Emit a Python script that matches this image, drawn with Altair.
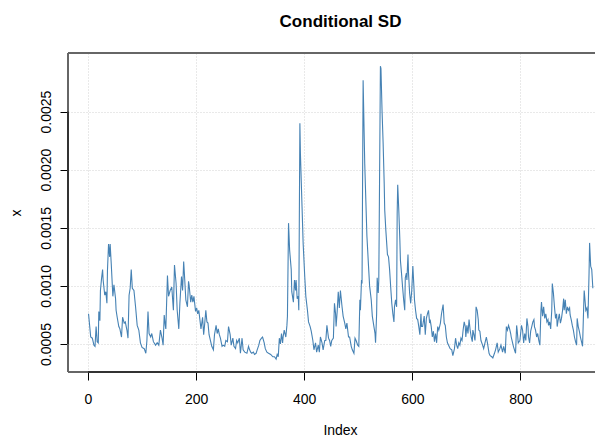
import altair as alt
import pandas as pd

# Index positions and conditional SD values
idx = [1, 5, 8, 11, 13, 15, 17, 19, 20, 22, 23, 25, 27, 28, 31, 33, 35, 36, 38, 40,
       41, 43, 46, 48, 51, 52, 54, 57, 59, 62, 64, 67, 69, 72, 74, 76, 78, 80, 82, 85,
       88, 91, 94, 97, 100, 104, 107, 109, 111, 113, 116, 118, 121, 125, 128, 131, 134, 137, 139, 141,
       143, 144, 147, 149, 152, 155, 158, 160, 163, 165, 168, 170, 173, 175, 177, 179, 181, 184, 186, 187,
       190, 192, 194, 196, 199, 201, 203, 205, 207, 209, 212, 214, 216, 218, 220, 222, 224, 227, 229, 232,
       234, 237, 239, 241, 243, 245, 248, 250, 253, 255, 258, 260, 263, 265, 268, 270, 273, 275, 277, 280,
       282, 285, 287, 290, 294, 297, 299, 301, 303, 306, 308, 311, 313, 316, 318, 321, 323, 326, 328, 331,
       334, 338, 342, 345, 348, 350, 352, 354, 356, 358, 360, 361, 363, 366, 368, 369, 371, 373, 376, 377,
       380, 382, 384, 385, 387, 389, 390, 392, 393, 396, 398, 401, 403, 406, 408, 411, 413, 416, 418, 421,
       423, 426, 428, 430, 433, 435, 438, 440, 442, 445, 447, 449, 451, 454, 456, 458, 459, 461, 463, 465,
       467, 470, 472, 475, 477, 479, 482, 484, 487, 489, 492, 494, 496, 499, 501, 503, 504, 506, 507, 509,
       512, 514, 516, 519, 521, 524, 526, 529, 531, 532, 534, 535, 537, 538, 541, 542, 544, 546, 548, 549,
       551, 553, 554, 556, 558, 560, 562, 564, 566, 567, 569, 571, 572, 573, 575, 577, 578, 580, 582, 584,
       586, 587, 589, 590, 592, 593, 595, 597, 599, 601, 603, 604, 606, 608, 610, 612, 614, 616, 617, 619,
       622, 624, 626, 628, 630, 632, 633, 635, 637, 639, 641, 643, 645, 647, 649, 652, 654, 657, 659, 661,
       663, 665, 668, 670, 673, 675, 678, 680, 682, 684, 686, 688, 690, 692, 694, 696, 698, 699, 701, 703,
       705, 707, 709, 711, 712, 714, 716, 718, 720, 722, 723, 725, 727, 730, 732, 735, 737, 739, 742, 744,
       747, 749, 752, 754, 757, 759, 762, 764, 767, 769, 772, 774, 776, 778, 780, 782, 783, 785, 787, 789,
       791, 793, 794, 796, 799, 802, 804, 806, 808, 810, 812, 814, 815, 817, 819, 821, 823, 825, 826, 828,
       830, 832, 834, 836, 838, 839, 841, 843, 845, 847, 849, 851, 852, 854, 856, 858, 859, 861, 863, 865,
       867, 868, 870, 872, 874, 876, 878, 880, 881, 883, 885, 887, 889, 891, 892, 894, 896, 898, 900, 902,
       904, 905, 907, 909, 911, 913, 915, 917, 918, 920, 921, 923, 925, 927, 928, 930, 932, 934]

sd = [0.00076, 0.00056, 0.00055, 0.00049, 0.00048, 0.00065, 0.00052, 0.00051, 0.00078, 0.00070,
      0.00096, 0.00106, 0.00114, 0.00105, 0.00092, 0.00095, 0.00085, 0.00113, 0.00136, 0.00125,
      0.00136, 0.00119, 0.00091, 0.00101, 0.00089, 0.00079, 0.00073, 0.00065, 0.00063, 0.00056,
      0.00073, 0.00068, 0.00069, 0.00062, 0.00055, 0.00092, 0.00098, 0.00114, 0.00098, 0.00096,
      0.00082, 0.00066, 0.00062, 0.00051, 0.00047, 0.00046, 0.00042, 0.00053, 0.00078, 0.00059,
      0.00056, 0.00059, 0.00052, 0.00049, 0.00051, 0.00049, 0.00062, 0.00055, 0.00049, 0.00075,
      0.00066, 0.00063, 0.00109, 0.00091, 0.00096, 0.00099, 0.00079, 0.00118, 0.00102, 0.00079,
      0.00063, 0.00085, 0.00108, 0.00096, 0.00121, 0.00105, 0.00088, 0.00082, 0.00104, 0.00101,
      0.00086, 0.00092, 0.00086, 0.00091, 0.00078, 0.00081, 0.00076, 0.00079, 0.00071, 0.00063,
      0.00073, 0.00058, 0.00068, 0.00079, 0.00069, 0.00068, 0.00058, 0.00052, 0.00048, 0.00045,
      0.00058, 0.00066, 0.00059, 0.00063, 0.00058, 0.00055, 0.00048, 0.00049, 0.00048, 0.00053,
      0.00052, 0.00065, 0.00058, 0.00049, 0.00055, 0.00048, 0.00046, 0.00053, 0.00051, 0.00055,
      0.00042, 0.00055, 0.00045, 0.00043, 0.00042, 0.00048, 0.00045, 0.00043, 0.00042, 0.00043,
      0.00041, 0.00042, 0.00045, 0.00049, 0.00053, 0.00055, 0.00056, 0.00051, 0.00046, 0.00043,
      0.00042, 0.00041, 0.00039, 0.00039, 0.00037, 0.00041, 0.00039, 0.00055, 0.00050, 0.00059,
      0.00051, 0.00056, 0.00062, 0.00056, 0.00066, 0.00074, 0.00154, 0.00131, 0.00114, 0.00095,
      0.00086, 0.00105, 0.00096, 0.00105, 0.00089, 0.00091, 0.00079, 0.00240, 0.00214, 0.00168,
      0.00137, 0.00108, 0.00091, 0.00079, 0.00069, 0.00065, 0.00061, 0.00053, 0.00045, 0.00051,
      0.00043, 0.00049, 0.00043, 0.00056, 0.00051, 0.00045, 0.00053, 0.00053, 0.00066, 0.00055,
      0.00053, 0.00048, 0.00053, 0.00055, 0.00085, 0.00076, 0.00065, 0.00078, 0.00095, 0.00081,
      0.00096, 0.00082, 0.00074, 0.00068, 0.00063, 0.00068, 0.00056, 0.00056, 0.00048, 0.00045,
      0.00042, 0.00055, 0.00053, 0.00049, 0.00048, 0.00088, 0.00079, 0.00105, 0.00102, 0.00277,
      0.00205, 0.00174, 0.00143, 0.00117, 0.00100, 0.00088, 0.00074, 0.00065, 0.00059, 0.00051,
      0.00076, 0.00107, 0.00094, 0.00105, 0.00289, 0.00287, 0.00251, 0.00223, 0.00188, 0.00165,
      0.00148, 0.00134, 0.00127, 0.00125, 0.00114, 0.00099, 0.00085, 0.00076, 0.00069, 0.00082,
      0.00088, 0.00082, 0.00162, 0.00187, 0.00165, 0.00139, 0.00122, 0.00111, 0.00099, 0.00088,
      0.00079, 0.00107, 0.00111, 0.00105, 0.00127, 0.00111, 0.00094, 0.00085, 0.00096, 0.00117,
      0.00099, 0.00088, 0.00079, 0.00072, 0.00071, 0.00065, 0.00058, 0.00076, 0.00065, 0.00065,
      0.00074, 0.00058, 0.00072, 0.00076, 0.00079, 0.00068, 0.00071, 0.00065, 0.00056, 0.00061,
      0.00052, 0.00059, 0.00051, 0.00065, 0.00062, 0.00068, 0.00076, 0.00084, 0.00068, 0.00066,
      0.00056, 0.00051, 0.00048, 0.00046, 0.00045, 0.00040, 0.00046, 0.00055, 0.00049, 0.00046,
      0.00051, 0.00049, 0.00055, 0.00053, 0.00062, 0.00069, 0.00065, 0.00056, 0.00066, 0.00059,
      0.00071, 0.00062, 0.00056, 0.00052, 0.00062, 0.00058, 0.00053, 0.00082, 0.00079, 0.00071,
      0.00062, 0.00061, 0.00053, 0.00049, 0.00046, 0.00052, 0.00056, 0.00051, 0.00042, 0.00040,
      0.00039, 0.00038, 0.00042, 0.00045, 0.00051, 0.00043, 0.00046, 0.00049, 0.00043, 0.00048,
      0.00042, 0.00065, 0.00062, 0.00066, 0.00063, 0.00059, 0.00056, 0.00052, 0.00048, 0.00045,
      0.00042, 0.00066, 0.00062, 0.00051, 0.00053, 0.00066, 0.00062, 0.00051, 0.00059, 0.00053,
      0.00072, 0.00065, 0.00056, 0.00051, 0.00061, 0.00065, 0.00069, 0.00071, 0.00065, 0.00062,
      0.00056, 0.00059, 0.00053, 0.00049, 0.00079, 0.00086, 0.00074, 0.00082, 0.00072, 0.00076,
      0.00069, 0.00071, 0.00066, 0.00069, 0.00063, 0.00079, 0.00102, 0.00094, 0.00082, 0.00072,
      0.00076, 0.00065, 0.00071, 0.00076, 0.00068, 0.00072, 0.00079, 0.00089, 0.00079, 0.00088,
      0.00076, 0.00082, 0.00079, 0.00081, 0.00075, 0.00071, 0.00066, 0.00062, 0.00056, 0.00052,
      0.00049, 0.00072, 0.00065, 0.00061, 0.00056, 0.00052, 0.00048, 0.00081, 0.00096, 0.00085,
      0.00079, 0.00081, 0.00072, 0.00111, 0.00137, 0.00117, 0.00114, 0.00098]

x_ticks = [0, 200, 400, 600, 800]
y_ticks = [0.0005, 0.0010, 0.0015, 0.0020, 0.0025]

df = pd.DataFrame({"Index": idx, "x": sd})

W, H = 527, 319
FONT = "Liberation Sans"
x_scale = alt.Scale(domain=[-37, 938], nice=False, zero=False)
y_scale = alt.Scale(domain=[0.000259, 0.003004], nice=False, zero=False)

x_axis = alt.Axis(values=x_ticks, grid=True, gridColor="#D3D3D3", gridDash=[1, 2],
                  gridWidth=1, domain=False, ticks=True, tickSize=8, tickColor="black",
                  labelFont=FONT, labelFontSize=14, labelColor="black",
                  labelBaseline="middle", labelPadding=19, labelFlush=False,
                  title="Index", titleFont=FONT, titleFontSize=14, titleFontWeight="normal",
                  titleColor="black", titleX=272, titleY=58, titleAlign="center",
                  titleBaseline="middle")
y_axis = alt.Axis(values=y_ticks, format=".4f", grid=True, gridColor="#D3D3D3",
                  gridDash=[1, 2], gridWidth=1, domain=False, ticks=True, tickSize=8,
                  tickColor="black", labelFont=FONT, labelFontSize=14, labelColor="black",
                  labelAngle=270, labelAlign="center", labelBaseline="middle",
                  labelPadding=14, labelFlush=False,
                  title="x", titleFont=FONT, titleFontSize=14, titleFontWeight="normal",
                  titleColor="black", titleAngle=270, titleX=-52, titleY=159.5,
                  titleAlign="center", titleBaseline="middle")

line = alt.Chart(df).mark_line(color="#4682B4", strokeWidth=1.1).encode(
    x=alt.X("Index:Q", scale=x_scale, axis=x_axis),
    y=alt.Y("x:Q", scale=y_scale, axis=y_axis),
)

frame_top = alt.Chart(df).mark_rule(color="#666666", strokeWidth=1).encode(
    x=alt.value(0), x2=alt.value(W), y=alt.value(0))
frame_left = alt.Chart(df).mark_rule(color="#666666", strokeWidth=1).encode(
    x=alt.value(0), y=alt.value(0), y2=alt.value(H))
frame_bottom = alt.Chart(df).mark_rule(color="#666666", strokeWidth=1).encode(
    x=alt.value(0), x2=alt.value(W), y=alt.value(H))

xaxis_df = pd.DataFrame({"a": [x_ticks[0]], "b": [x_ticks[-1]]})
yaxis_df = pd.DataFrame({"a": [y_ticks[0]], "b": [y_ticks[-1]]})
x_axis_line = alt.Chart(xaxis_df).mark_rule(color="black", strokeWidth=1).encode(
    x=alt.X("a:Q", scale=x_scale), x2="b:Q", y=alt.value(H))
y_axis_line = alt.Chart(yaxis_df).mark_rule(color="black", strokeWidth=1).encode(
    y=alt.Y("a:Q", scale=y_scale), y2="b:Q", x=alt.value(0))

chart = alt.layer(line, frame_top, frame_left, frame_bottom, x_axis_line, y_axis_line).properties(
    width=W, height=H,
    title=alt.TitleParams("Conditional SD", font=FONT, fontSize=17, fontWeight="bold",
                          color="black", anchor="middle", dx=9, baseline="middle", offset=14),
    autosize=alt.AutoSizeParams(type="none"),
    padding={"left": 60, "top": 45, "right": 0, "bottom": 65},
).configure_view(strokeWidth=0).configure(background="white")

chart.save("out.html", embed_options={"renderer": "svg", "actions": False})
